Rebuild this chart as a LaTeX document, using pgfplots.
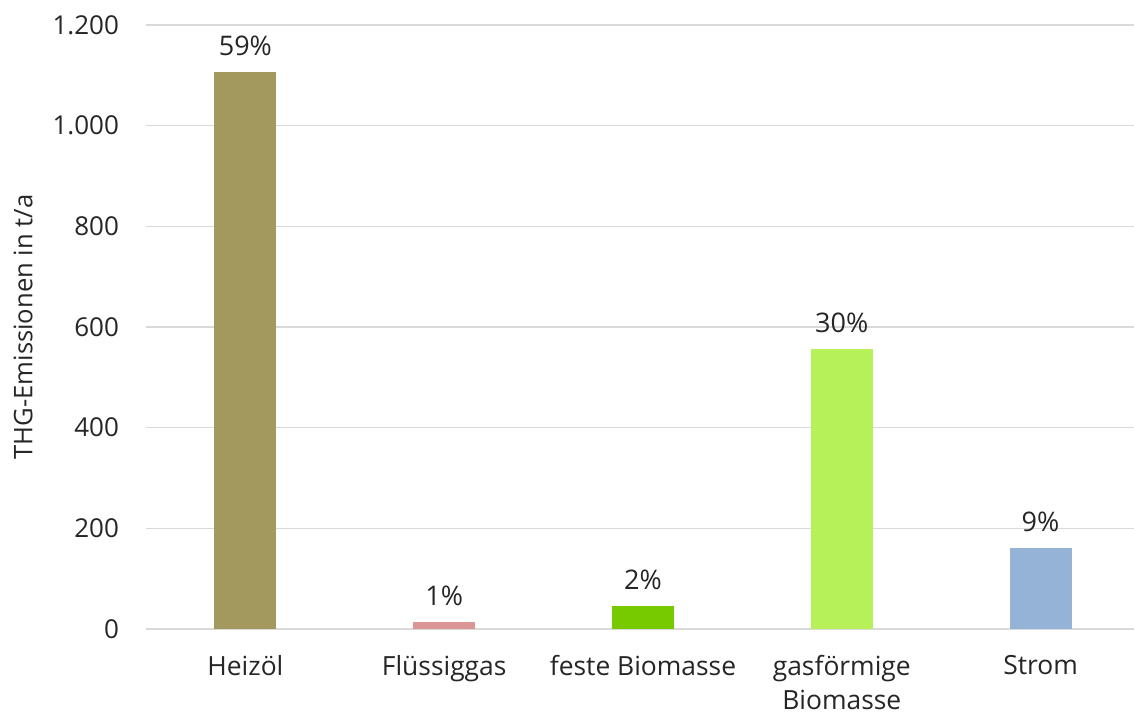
\documentclass[border=0pt]{standalone}
\usepackage{fontspec}
\setmainfont{Open Sans}
\usepackage{pgfplots}
\pgfplotsset{compat=1.18}
\definecolor{cHeiz}{HTML}{A3995E}
\definecolor{cFlue}{HTML}{DA9694}
\definecolor{cFest}{HTML}{77C900}
\definecolor{cGas}{HTML}{B7F159}
\definecolor{cStrom}{HTML}{95B3D7}
\definecolor{cGrid}{HTML}{D9D9D9}
\definecolor{cText}{HTML}{262626}
\begin{document}
\begin{tikzpicture}
\begin{axis}[
  scale only axis,
  width=494pt, height=302pt,
  xmin=-0.5, xmax=4.47,
  ymin=0, ymax=1200,
  ytick={0,200,400,600,800,1000,1200},
  xtick={0,1,2,3,4},
  xticklabels={Heizöl,Flüssiggas,feste Biomasse,{gasförmige\\Biomasse},Strom},
  axis line style={draw=none},
  major tick length=0pt,
  ymajorgrids,
  grid style={cGrid, line width=0.8pt},
  /pgf/number format/.cd, 1000 sep={.}, assume math mode=true,
  /pgfplots/.cd,
  yticklabel style={font=\fontsize{13}{15}\selectfont, text=cText, xshift=-10pt},
  xticklabel style={font=\fontsize{13.2}{17}\selectfont, text=cText, align=center, yshift=-9.5pt},
  ylabel={THG-Emissionen in t/a},
  every axis y label/.style={at={(axis description cs:0,0.5)}, xshift=-61.5pt, rotate=90, anchor=center, font=\fontsize{12.8}{14}\selectfont, text=cText},
  ybar, bar width=31pt, bar shift=0pt,
  point meta=explicit symbolic,
  nodes near coords,
  every node near coord/.append style={font=\fontsize{13.5}{15}\selectfont, text=cText, yshift=4.5pt},
  clip=false,
]
\addplot[fill=cHeiz, draw=none] coordinates {(0,1107) [59\%]};
\addplot[fill=cFlue, draw=none] coordinates {(1,14) [1\%]};
\addplot[fill=cFest, draw=none] coordinates {(2,46) [2\%]};
\addplot[fill=cGas, draw=none] coordinates {(3,557) [30\%]};
\addplot[fill=cStrom, draw=none] coordinates {(4,161) [9\%]};
\coordinate (sw) at (rel axis cs:0,0);
\end{axis}
\pgfresetboundingbox
\path (sw) ++(-73pt,-42pt) rectangle ++(567pt,356.5pt);
\end{tikzpicture}
\end{document}
